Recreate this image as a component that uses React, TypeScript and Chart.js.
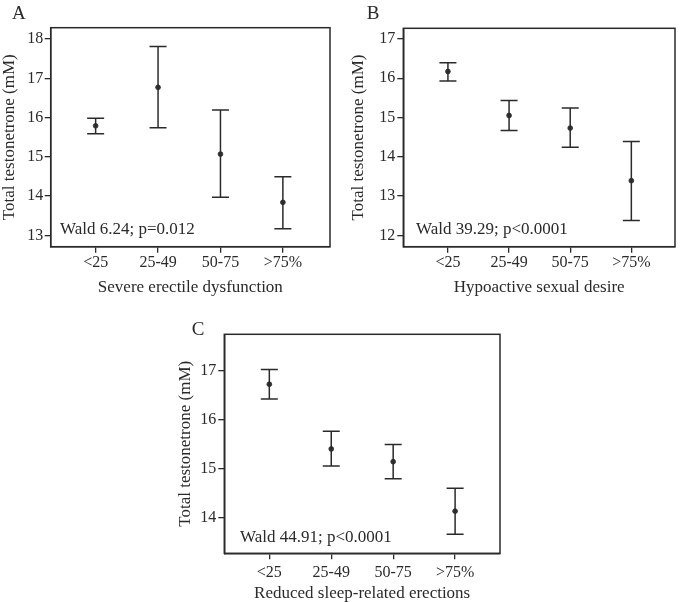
import React, { useEffect, useRef } from "react";
import { Chart, registerables } from "chart.js";

Chart.register(...registerables);

// ---------- data ----------
const categories = ["<25", "25-49", "50-75", ">75%"];
const yAxisTitle = "Total testonetrone (mM)";

const meanA = [15.79, 16.77, 15.07, 13.84];
const lowerA = [15.59, 15.74, 13.97, 13.17];
const upperA = [15.98, 17.81, 16.19, 14.49];
const yTicksA = [13, 14, 15, 16, 17, 18];

const meanB = [16.17, 15.05, 14.73, 13.39];
const lowerB = [15.93, 14.67, 14.24, 12.38];
const upperB = [16.39, 15.43, 15.24, 14.39];
const yTicksB = [12, 13, 14, 15, 16, 17];

const meanC = [16.73, 15.41, 15.15, 14.14];
const lowerC = [16.43, 15.06, 14.8, 13.67];
const upperC = [17.03, 15.77, 15.5, 14.61];
const yTicksC = [14, 15, 16, 17];

const xTitles = [
  "Severe erectile dysfunction",
  "Hypoactive sexual desire",
  "Reduced sleep-related erections",
];
const waldTexts = ["Wald 6.24; p=0.012", "Wald 39.29; p<0.0001", "Wald 44.91; p<0.0001"];
const panelLetters = ["A", "B", "C"];

// ---------- style / layout ----------
const FONT = "'Liberation Serif', 'Times New Roman', Times, serif";
const INK = "#2a2a2a";

type Panel = {
  letter: string;
  xTitle: string;
  wald: string;
  mean: number[];
  lower: number[];
  upper: number[];
  yTicks: number[];
  yMin: number;
  yMax: number;
  xMin: number;
  xMax: number;
  canvas: { left: number; top: number; width: number; height: number };
  area: { left: number; top: number; right: number; bottom: number };
  yTitleCenter: number;
  xTickCenter: number;
  xTitleCenter: number;
  yTickPad: number;
  wald_dx: number;
  wald_dy: number;
  letterX: number;
  letterY: number;
};

const panels: Panel[] = [
  {
    letter: panelLetters[0],
    xTitle: xTitles[0],
    wald: waldTexts[0],
    mean: meanA,
    lower: lowerA,
    upper: upperA,
    yTicks: yTicksA,
    yMin: 12.71,
    yMax: 18.29,
    xMin: -0.72,
    xMax: 3.755,
    canvas: { left: 0, top: 0, width: 340, height: 300 },
    area: { left: 50.7, top: 27.7, right: 331, bottom: 246.7 },
    yTitleCenter: 10,
    xTickCenter: 16.3,
    xTitleCenter: 41.3,
    yTickPad: 1.5,
    wald_dx: 9.3,
    wald_dy: 12.4,
    letterX: 12,
    letterY: 19,
  },
  {
    letter: panelLetters[1],
    xTitle: xTitles[1],
    wald: waldTexts[1],
    mean: meanB,
    lower: lowerB,
    upper: upperB,
    yTicks: yTicksB,
    yMin: 11.71,
    yMax: 17.27,
    xMin: -0.73,
    xMax: 3.714,
    canvas: { left: 340, top: 0, width: 345, height: 300 },
    area: { left: 63.3, top: 28.3, right: 343.3, bottom: 246.7 },
    yTitleCenter: 18.3,
    xTickCenter: 16.3,
    xTitleCenter: 41.3,
    yTickPad: 2,
    wald_dx: 12.7,
    wald_dy: 12.4,
    letterX: 26.7,
    letterY: 19,
  },
  {
    letter: panelLetters[2],
    xTitle: xTitles[2],
    wald: waldTexts[2],
    mean: meanC,
    lower: lowerC,
    upper: upperC,
    yTicks: yTicksC,
    yMin: 13.28,
    yMax: 17.75,
    xMin: -0.727,
    xMax: 3.725,
    canvas: { left: 170, top: 300, width: 340, height: 302 },
    area: { left: 54.3, top: 34.3, right: 334.3, bottom: 253.3 },
    yTitleCenter: 15.7,
    xTickCenter: 19.4,
    xTitleCenter: 40,
    yTickPad: 2,
    wald_dx: 15.7,
    wald_dy: 11,
    letterX: 21.7,
    letterY: 35,
  },
];

const TICK_LEN = 6;
const TICK_FONT = 16;
const TITLE_FONT = 17;

function makeChart(canvas: HTMLCanvasElement, p: Panel) {
  const xH = p.xTitleCenter + TITLE_FONT / 2;
  const padBottom = p.canvas.height - p.area.bottom - xH;

  const whiskers = categories.flatMap((_, i) => [
    { x: i, y: p.lower[i] },
    { x: i, y: p.upper[i] },
    { x: i + 0.5, y: null as any },
  ]);
  const caps = categories.flatMap((_, i) => [
    { x: i, y: p.lower[i] },
    { x: i, y: p.upper[i] },
  ]);
  const means = categories.map((_, i) => ({ x: i, y: p.mean[i] }));

  const framePlugin = {
    id: "frame_" + p.letter,
    afterDraw(chart: any) {
      const { ctx, chartArea } = chart;
      ctx.save();
      ctx.strokeStyle = INK;
      ctx.lineWidth = 1.5;
      ctx.strokeRect(
        chartArea.left,
        chartArea.top,
        chartArea.right - chartArea.left,
        chartArea.bottom - chartArea.top
      );
      ctx.fillStyle = INK;
      ctx.textBaseline = "alphabetic";
      ctx.textAlign = "left";
      ctx.font = `${TITLE_FONT}px ${FONT}`;
      ctx.fillText(p.wald, chartArea.left + p.wald_dx, chartArea.bottom - p.wald_dy);
      ctx.font = `19px ${FONT}`;
      ctx.fillText(p.letter, p.letterX, p.letterY);
      ctx.restore();
    },
  };

  return new Chart(canvas, {
    type: "scatter",
    data: {
      datasets: [
        {
          data: whiskers,
          showLine: true,
          spanGaps: false,
          borderColor: INK,
          borderWidth: 1.5,
          pointRadius: 0,
        } as any,
        {
          data: caps,
          pointStyle: "line",
          pointRadius: 8.5,
          pointBorderWidth: 1.5,
          pointBorderColor: INK,
          pointBackgroundColor: INK,
          showLine: false,
        } as any,
        {
          data: means,
          pointStyle: "circle",
          pointRadius: 2.4,
          pointBorderWidth: 0.8,
          pointBorderColor: INK,
          pointBackgroundColor: "#333",
          showLine: false,
        } as any,
      ],
    },
    options: {
      animation: false,
      responsive: false,
      maintainAspectRatio: false,
      events: [],
      layout: {
        padding: {
          left: 0,
          top: p.area.top,
          right: p.canvas.width - p.area.right,
          bottom: padBottom,
        },
      },
      plugins: {
        legend: { display: false },
        tooltip: { enabled: false },
        title: { display: false },
      },
      scales: {
        x: {
          type: "linear",
          position: "bottom",
          min: p.xMin,
          max: p.xMax,
          afterBuildTicks: (s: any) => {
            s.ticks = categories.map((_, i) => ({ value: i }));
          },
          afterFit: (s: any) => {
            s.height = xH;
          },
          ticks: {
            callback: (v: any) => categories[Math.round(Number(v))] ?? "",
            font: { family: FONT, size: TICK_FONT, lineHeight: 1 },
            color: INK,
            padding: p.xTickCenter - TICK_LEN - TICK_FONT / 2,
            autoSkip: false,
            maxRotation: 0,
            minRotation: 0,
          },
          grid: {
            display: true,
            drawOnChartArea: false,
            drawTicks: true,
            tickLength: TICK_LEN,
            color: INK,
            lineWidth: 1.3,
          },
          border: { display: true, color: INK, width: 1.5 },
          title: {
            display: true,
            text: p.xTitle,
            color: INK,
            font: { family: FONT, size: TITLE_FONT, lineHeight: 1 },
            padding: { top: 0, bottom: 0 },
          },
        },
        y: {
          type: "linear",
          position: "left",
          min: p.yMin,
          max: p.yMax,
          afterBuildTicks: (s: any) => {
            s.ticks = p.yTicks.map((v) => ({ value: v }));
          },
          afterFit: (s: any) => {
            s.width = p.area.left;
          },
          ticks: {
            callback: (v: any) => String(v),
            font: { family: FONT, size: TICK_FONT, lineHeight: 1 },
            color: INK,
            padding: p.yTickPad,
            autoSkip: false,
          },
          grid: {
            display: true,
            drawOnChartArea: false,
            drawTicks: true,
            tickLength: TICK_LEN,
            color: INK,
            lineWidth: 1.3,
          },
          border: { display: true, color: INK, width: 1.5 },
          title: {
            display: true,
            text: yAxisTitle,
            color: INK,
            font: { family: FONT, size: TITLE_FONT, lineHeight: 1 },
            padding: { top: p.yTitleCenter - TITLE_FONT / 2, bottom: 0 },
          },
        },
      },
    } as any,
    plugins: [framePlugin],
  });
}

function PanelChart({ p }: { p: Panel }) {
  const ref = useRef<HTMLCanvasElement | null>(null);
  useEffect(() => {
    if (!ref.current) return;
    const chart = makeChart(ref.current, p);
    return () => chart.destroy();
  }, [p]);
  return (
    <canvas
      ref={ref}
      width={p.canvas.width}
      height={p.canvas.height}
      style={{
        position: "absolute",
        left: p.canvas.left,
        top: p.canvas.top,
        width: p.canvas.width,
        height: p.canvas.height,
        display: "block",
      }}
    />
  );
}

export default function App() {
  return (
    <div
      style={{
        position: "fixed",
        left: 0,
        top: 0,
        width: 685,
        height: 602,
        background: "#ffffff",
        overflow: "hidden",
      }}
    >
      {panels.map((p) => (
        <PanelChart key={p.letter} p={p} />
      ))}
    </div>
  );
}
